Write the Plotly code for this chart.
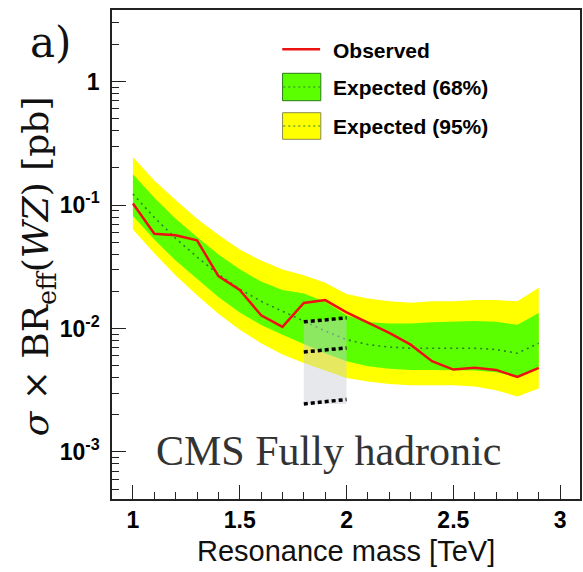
import plotly.graph_objects as go

# ---------------- data ----------------
mass = [1.0, 1.1, 1.2, 1.3, 1.4, 1.5, 1.6, 1.7, 1.8, 1.9,
        2.0, 2.1, 2.2, 2.3, 2.4, 2.5, 2.6, 2.7, 2.8, 2.9]
observed = [0.103, 0.0585, 0.057, 0.0518, 0.0266, 0.0205, 0.0128, 0.0103, 0.0161, 0.0170,
            0.0135, 0.0111, 0.0092, 0.0074, 0.00543, 0.00465, 0.0048, 0.00462, 0.00405, 0.0048]
expected = [0.1227, 0.0794, 0.0537, 0.0380, 0.0275, 0.0209, 0.0166, 0.0138, 0.0115, 0.00955,
            0.00813, 0.00741, 0.00708, 0.00692, 0.00692, 0.00692, 0.00692, 0.00676, 0.00631, 0.00759]
exp_up1 = [0.1774, 0.1148, 0.0776, 0.0550, 0.0398, 0.0302, 0.0240, 0.0205, 0.0192, 0.0165,
           0.0128, 0.0113, 0.01096, 0.01096, 0.01122, 0.01135, 0.01148, 0.01135, 0.01072, 0.01334]
exp_dn1 = [0.0815, 0.0525, 0.0355, 0.0251, 0.0180, 0.0135, 0.0107, 0.00891, 0.0075, 0.00631,
           0.00542, 0.00494, 0.00472, 0.00461, 0.00461, 0.00461, 0.00457, 0.00442, 0.00407, 0.0049]
exp_up2 = [0.245, 0.158, 0.110, 0.0776, 0.0575, 0.0437, 0.0355, 0.0300, 0.0270, 0.0235,
           0.0190, 0.0175, 0.0166, 0.0162, 0.0166, 0.0166, 0.0170, 0.0170, 0.0166, 0.0214]
exp_dn2 = [0.0635, 0.0407, 0.0269, 0.0186, 0.0132, 0.00977, 0.00759, 0.00617, 0.00525, 0.00457,
           0.00398, 0.00372, 0.00355, 0.00347, 0.00347, 0.00347, 0.00339, 0.00316, 0.00282, 0.00327]

# shaded region and the three dashed reference lines
box_mass = [1.8, 2.0]
box_limits = [0.00245, 0.0118]
ref_mass = [1.8, 2.0]
ref_top = [0.01132, 0.0122]
ref_mid = [0.00646, 0.00696]
ref_low = [0.00245, 0.00266]

x_ticks = [1, 1.5, 2, 2.5, 3]
x_ticklabels = ["1", "1.5", "2", "2.5", "3"]
y_ticks = [1e-3, 1e-2, 1e-1, 1]
y_ticklabels = ["10<sup>-3</sup>", "10<sup>-2</sup>", "10<sup>-1</sup>", "1"]

legend_labels = ["Observed", "Expected (68%)", "Expected (95%)"]

YELLOW = "#ffff00"
GREEN = "#5cff00"
RED = "#ee1111"
MEDIAN = "#2a8038"

fig = go.Figure()

# 95% band
fig.add_trace(go.Scatter(x=mass, y=exp_dn2, mode="lines", line=dict(width=0),
                         showlegend=False, hoverinfo="skip"))
fig.add_trace(go.Scatter(x=mass, y=exp_up2, mode="lines", line=dict(width=0),
                         fill="tonexty", fillcolor=YELLOW, showlegend=False, hoverinfo="skip"))
# 68% band
fig.add_trace(go.Scatter(x=mass, y=exp_dn1, mode="lines", line=dict(width=0),
                         showlegend=False, hoverinfo="skip"))
fig.add_trace(go.Scatter(x=mass, y=exp_up1, mode="lines", line=dict(width=0),
                         fill="tonexty", fillcolor=GREEN, showlegend=False, hoverinfo="skip"))
# median expected
fig.add_trace(go.Scatter(x=mass, y=expected, mode="lines",
                         line=dict(color=MEDIAN, width=1.6, dash="2px,4px"),
                         showlegend=False))
# observed
fig.add_trace(go.Scatter(x=mass, y=observed, mode="lines",
                         line=dict(color=RED, width=2.5), showlegend=False))

# grey box
bx = [box_mass[0], box_mass[1], box_mass[1], box_mass[0], box_mass[0]]
by = [box_limits[0], box_limits[0], box_limits[1], box_limits[1], box_limits[0]]
fig.add_trace(go.Scatter(x=bx, y=by, mode="lines", line=dict(width=0),
                         fill="toself", fillcolor="rgba(200,205,212,0.45)",
                         showlegend=False, hoverinfo="skip"))
for ref in (ref_top, ref_mid, ref_low):
    fig.add_trace(go.Scatter(x=ref_mass, y=ref, mode="lines",
                             line=dict(color="black", width=3.5, dash="4px,3px"),
                             showlegend=False))

# ---------------- layout ----------------
L, R, T, B = 112, 1, 10, 73
W, H = 583, 572
PW, PH = W - L - R, H - T - B


def px_x(px):
    return (px - L) / PW


def px_y(py):
    return (H - B - py) / PH


axis_common = dict(
    showgrid=False, zeroline=False, ticks="inside", ticklen=14, tickwidth=1.2,
    tickcolor="#222", showline=True, linecolor="#222", linewidth=1.5, mirror=True,
    tickfont=dict(family="Liberation Sans, Arial", size=23, color="black", weight="bold"),
)

minor_y = [k * 10 ** e for e in range(-4, 1) for k in range(2, 10)]

fig.update_layout(
    width=W, height=H,
    margin=dict(l=L, r=R, t=T, b=B, pad=0),
    paper_bgcolor="white", plot_bgcolor="white",
    xaxis=dict(range=[0.902, 3.093], tickvals=x_ticks, ticktext=x_ticklabels,
               minor=dict(dtick=0.1, tick0=0, ticks="inside", ticklen=7,
                          tickwidth=1, tickcolor="#222"),
               ticklabelstandoff=0, **axis_common),
    yaxis=dict(type="log", range=[-3.381, 0.58], tickvals=y_ticks, ticktext=y_ticklabels,
               minor=dict(tickmode="array", tickvals=minor_y, ticks="inside", ticklen=7,
                          tickwidth=1, tickcolor="#222"),
               ticklabelstandoff=6, **axis_common),
)

ann = []
ann.append(dict(text="Resonance mass [TeV]", x=px_x(347), y=px_y(551), xref="paper", yref="paper",
                showarrow=False, xanchor="center", yanchor="middle",
                font=dict(family="Liberation Sans, Arial", size=29, color="#111")))
ann.append(dict(text="<i>σ</i> × BR<sub>eff</sub>(<i>WZ</i>) [pb]", x=px_x(38), y=px_y(266),
                xref="paper", yref="paper", showarrow=False, textangle=-90,
                xanchor="center", yanchor="middle",
                font=dict(family="DejaVu Serif", size=36, color="#111")))
ann.append(dict(text="a)", x=px_x(50), y=px_y(42), xref="paper", yref="paper", showarrow=False,
                xanchor="center", yanchor="middle",
                font=dict(family="DejaVu Serif", size=42, color="#111")))
ann.append(dict(text="CMS Fully hadronic", x=px_x(329), y=px_y(451), xref="paper", yref="paper",
                showarrow=False, xanchor="center", yanchor="middle",
                font=dict(family="Liberation Serif, Times New Roman", size=42, color="#333")))

# manual legend
leg_y = [50, 87, 126]
for lbl, yy in zip(legend_labels, leg_y):
    ann.append(dict(text=lbl, x=px_x(332), y=px_y(yy), xref="paper", yref="paper",
                    showarrow=False, xanchor="left", yanchor="middle",
                    font=dict(family="Liberation Sans, Arial", size=21, color="black",
                              weight="bold")))
fig.update_layout(annotations=ann)

shapes = []
shapes.append(dict(type="line", xref="paper", yref="paper", x0=px_x(283), x1=px_x(321),
                   y0=px_y(49.3), y1=px_y(49.3), line=dict(color=RED, width=2.5)))
for (top, bot, col, edge) in [(73.3, 100.7, GREEN, "#2a7a1a"), (112.7, 139.3, YELLOW, "#8a8a50")]:
    shapes.append(dict(type="rect", xref="paper", yref="paper", x0=px_x(283.3), x1=px_x(321.7),
                       y0=px_y(bot), y1=px_y(top), fillcolor=col, line=dict(color=edge, width=1)))
    mid = (top + bot) / 2
    shapes.append(dict(type="line", xref="paper", yref="paper", x0=px_x(284), x1=px_x(321),
                       y0=px_y(mid), y1=px_y(mid),
                       line=dict(color=MEDIAN, width=1.2, dash="2px,3px")))
fig.update_layout(shapes=shapes)

fig.write_html("out.html")
